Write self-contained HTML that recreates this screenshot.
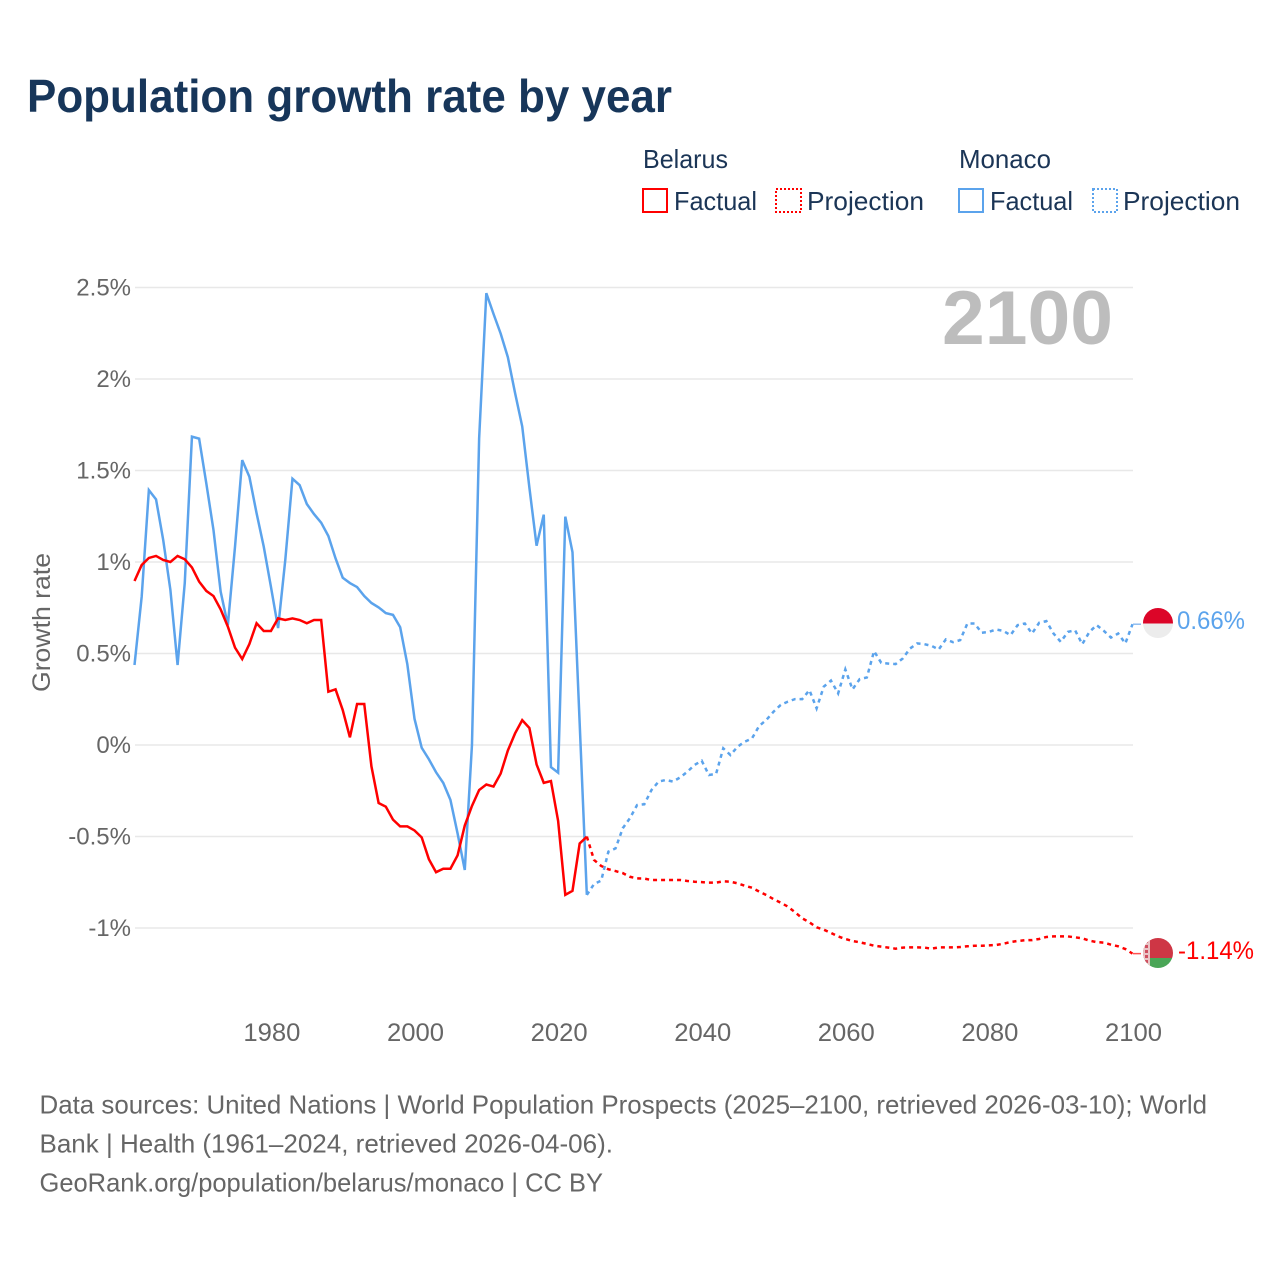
<!DOCTYPE html>
<html lang="en">
<head>
<meta charset="utf-8">
<title>Population growth rate by year</title>
<style>
html,body{margin:0;padding:0;background:#fff;width:1280px;height:1280px;overflow:hidden}
svg{display:block;font-family:"Liberation Sans",sans-serif}
</style>
</head>
<body>
<svg id="chart" xmlns="http://www.w3.org/2000/svg" width="1280" height="1280" viewBox="0 0 1280 1280">
  <defs>
    <clipPath id="clip-mc"><circle id="clip-mc-c" cx="1158" cy="623" r="15"/></clipPath>
    <clipPath id="clip-by"><circle id="clip-by-c" cx="1158" cy="953" r="15"/></clipPath>
  </defs>
  <text x="27" y="112" font-size="46" font-weight="700" fill="#17365a" textLength="645" lengthAdjust="spacingAndGlyphs">Population growth rate by year</text>

  <g font-size="26" fill="#1b3556">
    <text x="643" y="168" textLength="85" lengthAdjust="spacingAndGlyphs">Belarus</text>
    <rect x="643" y="189" width="24" height="23" fill="none" stroke="#ff0000" stroke-width="2"/>
    <text x="674" y="210" textLength="83" lengthAdjust="spacingAndGlyphs">Factual</text>
    <rect x="776" y="189" width="25" height="23" fill="none" stroke="#ff0000" stroke-width="2" stroke-dasharray="2 2"/>
    <text x="807" y="210" textLength="117" lengthAdjust="spacingAndGlyphs">Projection</text>
    <text x="959" y="168" textLength="92" lengthAdjust="spacingAndGlyphs">Monaco</text>
    <rect x="959" y="189" width="24" height="23" fill="none" stroke="#5ba3ec" stroke-width="2"/>
    <text x="990" y="210" textLength="83" lengthAdjust="spacingAndGlyphs">Factual</text>
    <rect x="1093" y="189" width="24" height="23" fill="none" stroke="#5ba3ec" stroke-width="2" stroke-dasharray="2 2"/>
    <text x="1123" y="210" textLength="117" lengthAdjust="spacingAndGlyphs">Projection</text>
  </g>

  <g id="grid"></g>
  <g id="yticks"></g>
  <g id="xticks"></g>

  <text transform="translate(50,692) rotate(-90)" font-size="25" fill="#666666" textLength="139" lengthAdjust="spacingAndGlyphs">Growth rate</text>
  <text x="942" y="344" font-size="76" font-weight="700" fill="#bdbdbd" textLength="171" lengthAdjust="spacingAndGlyphs">2100</text>

  <g id="series"></g>

  <g id="end-markers">
    <g clip-path="url(#clip-mc)">
      <rect x="1143" y="608" width="30" height="15.5" fill="#dc0528"/>
      <rect x="1143" y="623.5" width="30" height="15" fill="#ececec"/>
    </g>
    <g clip-path="url(#clip-by)">
      <rect x="1143" y="938" width="30" height="20" fill="#ce3645"/>
      <rect x="1143" y="958" width="30" height="10" fill="#4aa657"/>
      <rect x="1143" y="938" width="7" height="30" fill="#eac4c6"/>
      <path d="M1146.5 940v26" stroke="#cf5060" stroke-width="3" stroke-dasharray="3 2" fill="none"/>
    </g>
  </g>

  <g font-size="26" fill="#666666">
    <text x="39.5" y="1113.5" textLength="1167.5" lengthAdjust="spacingAndGlyphs">Data sources: United Nations | World Population Prospects (2025–2100, retrieved 2026-03-10); World</text>
    <text x="39.5" y="1152.5" textLength="573.5" lengthAdjust="spacingAndGlyphs">Bank | Health (1961–2024, retrieved 2026-04-06).</text>
    <text x="39.5" y="1191.5" textLength="563.5" lengthAdjust="spacingAndGlyphs">GeoRank.org/population/belarus/monaco | CC BY</text>
  </g>
</svg>
<script>
const yTickValues = [2.5, 2, 1.5, 1, 0.5, 0, -0.5, -1];
const yTickLabels = ["2.5%", "2%", "1.5%", "1%", "0.5%", "0%", "-0.5%", "-1%"];
const xTickYears = [1980, 2000, 2020, 2040, 2060, 2080, 2100];
const factualStartYear = 1961;
const projectionStartYear = 2024;
const belarusFactual = [
  0.896, 0.984, 1.022, 1.033, 1.011, 1.0, 1.033, 1.015, 0.97, 0.893,
  0.842, 0.814, 0.741, 0.647, 0.532, 0.47, 0.552, 0.665, 0.623, 0.623,
  0.692, 0.683, 0.692, 0.683, 0.665, 0.683, 0.683, 0.291, 0.304, 0.191,
  0.042, 0.224, 0.224, -0.117, -0.317, -0.337, -0.408, -0.445, -0.445, -0.467,
  -0.505, -0.624, -0.695, -0.676, -0.676, -0.603, -0.44, -0.333, -0.246, -0.216,
  -0.227, -0.156, -0.03, 0.063, 0.136, 0.093, -0.106, -0.207, -0.197, -0.415,
  -0.819, -0.797, -0.538, -0.501
];
const monacoFactual = [
  0.437, 0.81, 1.393, 1.342, 1.12, 0.847, 0.437, 0.885, 1.685, 1.674,
  1.43, 1.175, 0.838, 0.655, 1.084, 1.557, 1.466, 1.267, 1.084, 0.865,
  0.639, 1.011, 1.455, 1.42, 1.317, 1.262, 1.215, 1.142, 1.02, 0.914,
  0.885, 0.863, 0.814, 0.776, 0.752, 0.721, 0.711, 0.644, 0.441, 0.143,
  -0.015, -0.078, -0.149, -0.207, -0.3, -0.484, -0.683, 0, 1.676, 2.469,
  2.356, 2.248, 2.119, 1.924, 1.741, 1.406, 1.089, 1.259, -0.121, -0.151,
  1.248, 1.054, 0.12, -0.819
];
const belarusProjection = [
  -0.501, -0.628, -0.661, -0.679, -0.689, -0.7, -0.72, -0.729, -0.73, -0.738,
  -0.738, -0.738, -0.738, -0.738, -0.743, -0.747, -0.749, -0.752, -0.752, -0.745,
  -0.747, -0.756, -0.769, -0.78, -0.801, -0.82, -0.842, -0.862, -0.883, -0.914,
  -0.947, -0.969, -0.996, -1.009, -1.027, -1.046, -1.06, -1.071, -1.078, -1.087,
  -1.097, -1.102, -1.107, -1.113, -1.107, -1.106, -1.106, -1.107, -1.113, -1.106,
  -1.106, -1.106, -1.104, -1.1, -1.097, -1.097, -1.095, -1.093, -1.086, -1.077,
  -1.071, -1.067, -1.066, -1.06, -1.049, -1.046, -1.046, -1.046, -1.051, -1.056,
  -1.069, -1.077, -1.08, -1.091, -1.1, -1.115, -1.14
];
const monacoProjection = [
  -0.819, -0.76, -0.741, -0.583, -0.565, -0.455, -0.4, -0.328, -0.324, -0.246,
  -0.2, -0.191, -0.2, -0.177, -0.146, -0.109, -0.086, -0.164, -0.158, -0.018,
  -0.055, -0.009, 0.018, 0.036, 0.104, 0.137, 0.182, 0.219, 0.237, 0.251,
  0.251, 0.3, 0.2, 0.319, 0.352, 0.282, 0.413, 0.304, 0.36, 0.369,
  0.513, 0.449, 0.445, 0.442, 0.473, 0.527, 0.555, 0.551, 0.542, 0.522,
  0.577, 0.562, 0.573, 0.664, 0.664, 0.613, 0.618, 0.631, 0.624, 0.6,
  0.655, 0.664, 0.609, 0.668, 0.677, 0.609, 0.564, 0.618, 0.627, 0.551,
  0.618, 0.655, 0.624, 0.587, 0.609, 0.555, 0.66
];
const belarusEndLabel = "-1.14%";
const monacoEndLabel = "0.66%";

const SVGNS = "http://www.w3.org/2000/svg";
function xScale(year) { return 134.5 + (year - 1961) * 7.18; }
function yScale(value) { return 745 - value * 183; }
function pathFrom(values, startYear) {
  return values.map(function (v, i) {
    return (i ? "L" : "M") + xScale(startYear + i).toFixed(2) + " " + yScale(v).toFixed(2);
  }).join("");
}

const grid = document.getElementById("grid");
const yticks = document.getElementById("yticks");
const xticks = document.getElementById("xticks");
const series = document.getElementById("series");
const markers = document.getElementById("end-markers");

yTickValues.forEach(function (v, i) {
  const line = document.createElementNS(SVGNS, "line");
  
  
  line.setAttribute("x1", 135);
  line.setAttribute("x2", 1133);
  line.setAttribute("y1", yScale(v));
  line.setAttribute("y2", yScale(v));
  line.setAttribute("stroke", "#e8e8e8");
  line.setAttribute("stroke-width", "1.5");
  grid.appendChild(line);

  const t = document.createElementNS(SVGNS, "text");
  
  
  t.setAttribute("x", 131);
  t.setAttribute("y", yScale(v) + 8);
  t.setAttribute("text-anchor", "end");
  t.setAttribute("font-size", "24");
  t.setAttribute("fill", "#666666");
  t.textContent = yTickLabels[i];
  yticks.appendChild(t);
});

xTickYears.forEach(function (yr) {
  const t = document.createElementNS(SVGNS, "text");
  
  
  t.setAttribute("x", xScale(yr) + 1);
  t.setAttribute("y", 1041);
  t.setAttribute("text-anchor", "middle");
  t.setAttribute("font-size", "25");
  t.setAttribute("fill", "#666666");
  t.setAttribute("textLength", "57");
  t.setAttribute("lengthAdjust", "spacingAndGlyphs");
  t.textContent = String(yr);
  xticks.appendChild(t);
});

const monacoFactualLine = document.createElementNS(SVGNS, "path");


monacoFactualLine.setAttribute("d", pathFrom(monacoFactual, factualStartYear));
monacoFactualLine.setAttribute("fill", "none");
monacoFactualLine.setAttribute("stroke", "#5ba3ec");
monacoFactualLine.setAttribute("stroke-width", "2.5");
monacoFactualLine.setAttribute("stroke-linejoin", "miter");
series.appendChild(monacoFactualLine);

const belarusFactualLine = document.createElementNS(SVGNS, "path");


belarusFactualLine.setAttribute("d", pathFrom(belarusFactual, factualStartYear));
belarusFactualLine.setAttribute("fill", "none");
belarusFactualLine.setAttribute("stroke", "#ff0000");
belarusFactualLine.setAttribute("stroke-width", "2.5");
series.appendChild(belarusFactualLine);

const monacoProjectionLine = document.createElementNS(SVGNS, "path");


monacoProjectionLine.setAttribute("d", pathFrom(monacoProjection, projectionStartYear));
monacoProjectionLine.setAttribute("fill", "none");
monacoProjectionLine.setAttribute("stroke", "#5ba3ec");
monacoProjectionLine.setAttribute("stroke-width", "2.5");
monacoProjectionLine.setAttribute("stroke-dasharray", "4 4");
series.appendChild(monacoProjectionLine);

const belarusProjectionLine = document.createElementNS(SVGNS, "path");


belarusProjectionLine.setAttribute("d", pathFrom(belarusProjection, projectionStartYear));
belarusProjectionLine.setAttribute("fill", "none");
belarusProjectionLine.setAttribute("stroke", "#ff0000");
belarusProjectionLine.setAttribute("stroke-width", "2.5");
belarusProjectionLine.setAttribute("stroke-dasharray", "4 4");
series.appendChild(belarusProjectionLine);

const monacoY = yScale(monacoProjection[monacoProjection.length - 1]);
const belarusY = yScale(belarusProjection[belarusProjection.length - 1]);

const monacoConnector = document.createElementNS(SVGNS, "line");


monacoConnector.setAttribute("x1", 1133);
monacoConnector.setAttribute("x2", 1141);
monacoConnector.setAttribute("y1", monacoY);
monacoConnector.setAttribute("y2", monacoY);
monacoConnector.setAttribute("stroke", "#8fbdf0");
monacoConnector.setAttribute("stroke-width", "1.5");
markers.appendChild(monacoConnector);

const belarusConnector = document.createElementNS(SVGNS, "line");


belarusConnector.setAttribute("x1", 1133);
belarusConnector.setAttribute("x2", 1141);
belarusConnector.setAttribute("y1", belarusY);
belarusConnector.setAttribute("y2", belarusY);
belarusConnector.setAttribute("stroke", "#ff5050");
belarusConnector.setAttribute("stroke-width", "1.5");
markers.appendChild(belarusConnector);

const monacoLabel = document.createElementNS(SVGNS, "text");


monacoLabel.setAttribute("x", 1177);
monacoLabel.setAttribute("y", monacoY + 5);
monacoLabel.setAttribute("font-size", "25");
monacoLabel.setAttribute("fill", "#5ba3ec");
monacoLabel.setAttribute("textLength", "68");
monacoLabel.setAttribute("lengthAdjust", "spacingAndGlyphs");
monacoLabel.textContent = monacoEndLabel;
markers.appendChild(monacoLabel);

const belarusLabel = document.createElementNS(SVGNS, "text");


belarusLabel.setAttribute("x", 1178);
belarusLabel.setAttribute("y", belarusY + 5.5);
belarusLabel.setAttribute("font-size", "25");
belarusLabel.setAttribute("fill", "#ff0000");
belarusLabel.setAttribute("textLength", "76");
belarusLabel.setAttribute("lengthAdjust", "spacingAndGlyphs");
belarusLabel.textContent = belarusEndLabel;
markers.appendChild(belarusLabel);
</script>
</body>
</html>
